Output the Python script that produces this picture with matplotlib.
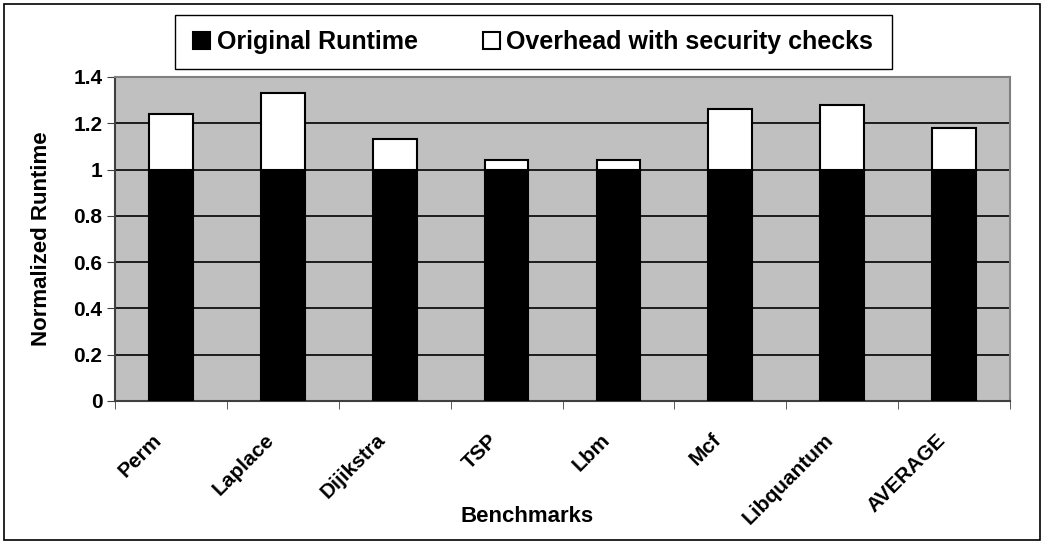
import numpy as np
import matplotlib.pyplot as plt
from matplotlib.patches import Rectangle
from matplotlib.transforms import ScaledTranslation

plt.rcParams['font.family'] = ['Liberation Sans', 'DejaVu Sans']
plt.rcParams['font.weight'] = 'bold'

benchmarks = ['Perm', 'Laplace', 'Dijikstra', 'TSP', 'Lbm', 'Mcf', 'Libquantum', 'AVERAGE']
original = [1.0, 1.0, 1.0, 1.0, 1.0, 1.0, 1.0, 1.0]
overhead = [0.24, 0.33, 0.13, 0.04, 0.04, 0.26, 0.28, 0.18]
yticks = [0, 0.2, 0.4, 0.6, 0.8, 1.0, 1.2, 1.4]
ytick_labels = ['0', '0.2', '0.4', '0.6', '0.8', '1', '1.2', '1.4']

fig = plt.figure(figsize=(10.44, 5.44), dpi=100)
ax = fig.add_axes([115/1044, 1 - 401/544, (1010 - 115)/1044, (401 - 77)/544])
ax.set_facecolor('#C0C0C0')

x = np.arange(len(benchmarks))
w = 0.39
ax.bar(x, original, w, color='black', edgecolor='black', linewidth=1.5,
       label='Original Runtime', zorder=3)
ax.bar(x, overhead, w, bottom=original, color='white', edgecolor='black',
       linewidth=1.5, label='Overhead with security checks', zorder=3)

ax.set_xlim(-0.5, len(benchmarks) - 0.5)
ax.set_ylim(0, 1.4)
ax.set_yticks(yticks)
ax.set_yticklabels(ytick_labels, fontsize=15, fontweight='bold')
ax.yaxis.grid(True, color='black', linewidth=1.2, zorder=1)
ax.set_axisbelow(True)

# category labels under bars, ticks between categories
ax.set_xticks(x)
ax.set_xticklabels(benchmarks, rotation=45, ha='right', va='center',
                   rotation_mode='anchor', fontsize=15, fontweight='bold')
ax.tick_params(axis='x', length=0, pad=26)
shift = ScaledTranslation(-0.12, 0, fig.dpi_scale_trans)
for lab in ax.get_xticklabels():
    lab.set_transform(lab.get_transform() + shift)
ax.set_xticks(np.arange(-0.5, len(benchmarks)), minor=True)
ax.tick_params(axis='x', which='minor', length=6, direction='out', color='#404040')
ax.tick_params(axis='y', length=6, direction='out', color='#404040', pad=3)

for side in ['top', 'right']:
    ax.spines[side].set_color('#808080')
    ax.spines[side].set_linewidth(1.5)
ax.spines['left'].set_color('#404040')
ax.spines['bottom'].set_color('#404040')
ax.spines['left'].set_linewidth(1.5)
ax.spines['bottom'].set_linewidth(1.5)

ax.set_ylabel('Normalized Runtime', fontsize=16, fontweight='bold')
ax.yaxis.set_label_coords(-(115 - 52)/895, 0.5)
ax.set_xlabel('Benchmarks', fontsize=16, fontweight='bold')
ax.xaxis.set_label_coords((527 - 115)/895, -(506 - 401)/324)

leg = fig.legend(loc='center', bbox_to_anchor=(533/1044, 1 - 42/544), ncol=2,
                 frameon=False, fontsize=18,
                 handlelength=0.7, handleheight=0.7, handletextpad=0.25,
                 columnspacing=2.6, borderpad=0.3)
for t in leg.get_texts():
    t.set_fontweight('bold')

# legend box and outer chart border
fig.patches.append(Rectangle((175/1044, 1 - 69/544), 717/1044, 54/544,
                             transform=fig.transFigure, fill=False,
                             edgecolor='black', linewidth=1.0))
fig.patches.append(Rectangle((4/1044, 4/544), 1 - 8/1044, 1 - 8/544,
                             transform=fig.transFigure, fill=False,
                             edgecolor='black', linewidth=1.2))

plt.savefig('out.png', dpi=100)
